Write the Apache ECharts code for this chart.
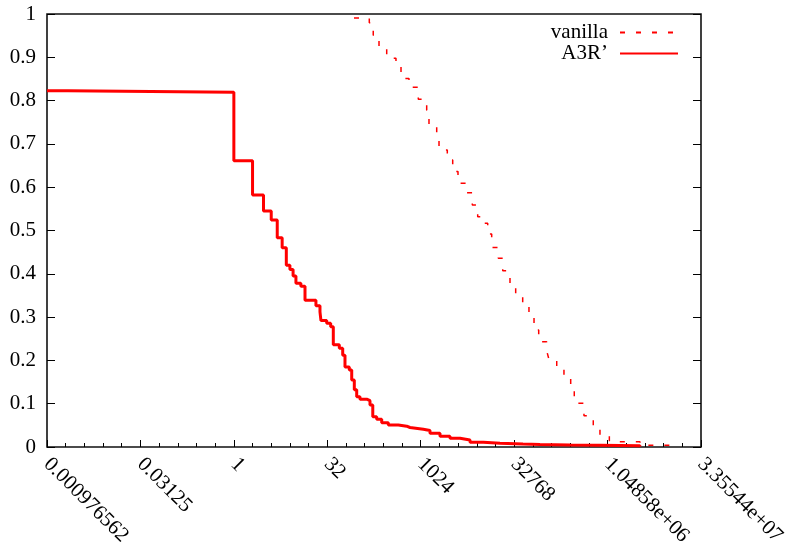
<!DOCTYPE html>
<html>
<head>
<meta charset="utf-8">
<script src="https://cdn.jsdelivr.net/npm/echarts@6/dist/echarts.min.js"></script>
<style>
html,body{margin:0;padding:0;background:#fff;}
#chart{width:791px;height:549px;}
</style>
</head>
<body>
<div id="chart"></div>
<script>
// x tick exponents (log base 2) and their gnuplot-style labels
var xTickExps = [-10, -5, 0, 5, 10, 15, 20, 25];
var xTickLabels = ['0.000976562', '0.03125', '1', '32', '1024', '32768', '1.04858e+06', '3.35544e+07'];
var yTickLabels = ['0', '0.1', '0.2', '0.3', '0.4', '0.5', '0.6', '0.7', '0.8', '0.9', '1'];

var seriesNames = ['vanilla', 'A3R\u2019'];

// vanilla: x values (linear units) and fractions
var vanillaX = [86.2, 152, 176, 218, 290, 409, 493, 663, 936, 1278, 1392, 1853, 2019, 2746, 3355, 4082, 5701, 6942, 8480, 9836, 12290, 14250, 18200, 21440, 28100, 34700, 45000, 56800, 68500, 81500, 109600, 118000, 159000, 208000, 267000, 305000, 437000, 617000, 791000, 1120000, 3490000, 12800000];
var vanillaY = [0.991, 0.980, 0.951, 0.921, 0.898, 0.878, 0.851, 0.831, 0.803, 0.778, 0.741, 0.718, 0.686, 0.663, 0.636, 0.609, 0.587, 0.559, 0.532, 0.517, 0.492, 0.461, 0.436, 0.407, 0.378, 0.351, 0.326, 0.301, 0.270, 0.243, 0.222, 0.205, 0.184, 0.160, 0.136, 0.101, 0.072, 0.048, 0.026, 0.012, 0.004, 0.001];

// A3R': x values (linear units) and fractions
var a3rX = [0.0009765625, 0.00211, 1, 2, 3, 4, 5, 6, 7, 8, 9, 10, 12, 14, 21, 24.4, 25.3, 31.3, 36.3, 40.0, 50.0, 56.7, 61.7, 72.4, 79.2, 87.2, 95.3, 107.7, 141, 156, 173, 200, 241, 308, 446, 609, 688, 1128, 1445, 2094, 3034, 4398, 6374, 10440, 19390, 45500, 85500, 260000, 791000, 3490000];
var a3rY = [0.823, 0.819, 0.661, 0.582, 0.545, 0.524, 0.483, 0.460, 0.420, 0.410, 0.395, 0.378, 0.371, 0.339, 0.326, 0.312, 0.292, 0.286, 0.278, 0.236, 0.228, 0.212, 0.185, 0.178, 0.155, 0.132, 0.116, 0.110, 0.107, 0.097, 0.070, 0.064, 0.056, 0.051, 0.048, 0.045, 0.041, 0.038, 0.032, 0.025, 0.020, 0.016, 0.011, 0.0085, 0.007, 0.006, 0.0046, 0.004, 0.003, 0.001];

function toLog2Pairs(xs, ys) {
  return xs.map(function (x, i) { return [Math.log2(x), ys[i]]; });
}

var FONT = 'Liberation Serif';
var labelRich = { s: { fontFamily: FONT, fontSize: 21, color: '#000' } };
var chart = echarts.init(document.getElementById('chart'), null, {renderer: 'canvas'});

var option = {
  animation: false,
  backgroundColor: '#fff',
  textStyle: { fontFamily: FONT, fontSize: 21, color: '#000' },
  grid: {
    left: 47, right: 90, top: 14, bottom: 102,
    show: true, borderColor: '#111', borderWidth: 1.6, backgroundColor: 'transparent'
  },
  legend: {
    orient: 'vertical',
    right: 107,
    top: 17,
    align: 'right',
    itemWidth: 58,
    itemHeight: 12,
    itemGap: 0,
    selectedMode: false,
    itemStyle: { opacity: 0, borderWidth: 0 },
    data: seriesNames,
    textStyle: { fontFamily: FONT, fontSize: 21, color: '#000', lineHeight: 20, padding: [0, 7, 0, 0] }
  },
  xAxis: {
    type: 'value',
    min: -10, max: 25, interval: 5,
    axisLine: { show: false, onZero: false },
    splitLine: { show: false },
    axisTick: { show: true, inside: true, length: 7, lineStyle: { color: '#000', width: 1 } },
    minorTick: { show: true, splitNumber: 5, length: 4, lineStyle: { color: '#000', width: 1 } },
    axisLabel: {
      show: true, rotate: -45, margin: 14,
      fontFamily: FONT, fontSize: 21, color: '#000',
      showMinLabel: true, showMaxLabel: true,
      rich: labelRich,
      formatter: function (v) {
        var i = xTickExps.indexOf(Math.round(v));
        return i >= 0 ? '{s|' + xTickLabels[i] + '}' : '';
      }
    }
  },
  yAxis: [{
    type: 'value',
    min: 0, max: 1, interval: 0.1,
    axisLine: { show: false, onZero: false },
    splitLine: { show: false },
    axisTick: { show: true, inside: true, length: 8, lineStyle: { color: '#000', width: 1 } },
    axisLabel: {
      margin: 11, fontFamily: FONT, fontSize: 21, color: '#000',
      rich: labelRich,
      formatter: function (v) { return '{s|' + yTickLabels[Math.round(v * 10)] + '}'; }
    }
  }, {
    type: 'value', position: 'right',
    min: 0, max: 1, interval: 0.1,
    axisLine: { show: false, onZero: false },
    splitLine: { show: false },
    axisTick: { show: true, inside: true, length: 8, lineStyle: { color: '#000', width: 1 } },
    axisLabel: { show: false }
  }],
  series: [{
    name: seriesNames[0],
    type: 'line',
    step: 'end',
    showSymbol: false,
    symbol: 'none',
    data: toLog2Pairs(vanillaX, vanillaY),
    lineStyle: { color: '#ff0000', width: 1.5, type: [5, 11] },
    itemStyle: { color: '#ff0000' }
  }, {
    name: seriesNames[1],
    type: 'line',
    step: 'end',
    showSymbol: false,
    symbol: 'none',
    data: toLog2Pairs(a3rX, a3rY),
    lineStyle: { color: '#ff0000', width: 3 },
    itemStyle: { color: '#ff0000' }
  }]
};
chart.setOption(option);
</script>
</body>
</html>
